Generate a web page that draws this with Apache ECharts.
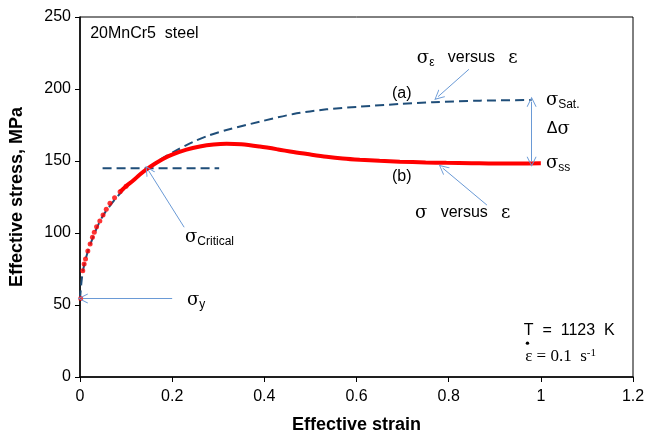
<!DOCTYPE html>
<html>
<head>
<meta charset="utf-8">
<script src="https://cdn.jsdelivr.net/npm/echarts@6/dist/echarts.min.js"></script>
<style>
  html, body { margin: 0; padding: 0; background: #fff; }
  #chart { width: 646px; height: 436px; }
</style>
</head>
<body>
<div id="chart"></div>
<script>
// red curve (b): early sampled points shown as dots
const dotStrain = [0.0015, 0.006, 0.009, 0.012, 0.017, 0.022, 0.027, 0.031, 0.036, 0.043, 0.05, 0.057, 0.065, 0.075, 0.087, 0.1];
const dotStress = [54.6, 73.8, 78.5, 82, 87.5, 92.4, 97, 100.5, 104.4, 108.3, 112.5, 116.5, 120.6, 124.5, 128.7, 132.5];

// red curve (b): dense part drawn as a thick line
const lineStrain = [0.087, 0.1, 0.116, 0.13, 0.148, 0.165, 0.18, 0.2, 0.231, 0.26, 0.29, 0.318, 0.35, 0.39, 0.43, 0.463, 0.5, 0.535, 0.57, 0.607, 0.65, 0.694, 0.75, 0.795, 0.85, 0.9, 0.95, 1.0];
const lineStress = [128.7, 132.5, 136.6, 140.6, 145, 148.6, 151.4, 154.4, 157.9, 160.1, 161.5, 162.0, 161.6, 160.0, 158.0, 156.2, 154.5, 153.0, 151.8, 150.9, 150.1, 149.5, 149.0, 148.7, 148.5, 148.3, 148.3, 148.4];

// dashed curve (a)
const dashStrain = [0, 0.006, 0.02, 0.05, 0.1, 0.148, 0.174, 0.21, 0.246, 0.28, 0.318, 0.39, 0.463, 0.535, 0.607, 0.694, 0.766, 0.868, 0.98];
const dashStress = [54, 73, 90, 112, 132, 145, 151, 157.5, 163.4, 167.8, 171.5, 177.3, 182.6, 185.9, 187.7, 189.6, 190.8, 191.9, 192.4];

// critical stress level
const critStrain = [0.049, 0.302];
const critStress = [145, 145];

const xTicks = [0, 0.2, 0.4, 0.6, 0.8, 1, 1.2];
const yTicks = [0, 50, 100, 150, 200, 250];

// annotation arrows [tail, head] in data units
const arrows = [
  { from: [0.2, 54.6], to: [0.006, 54.6], both: false },
  { from: [0.226, 104], to: [0.148, 143.7], both: false },
  { from: [0.844, 213.7], to: [0.777, 194.7], both: false },
  { from: [0.883, 119.4], to: [0.787, 145.1], both: false },
  { from: [0.98, 149.5], to: [0.98, 191.2], both: true }
];

// annotation texts, anchored at left/middle in data units
const labels = [
  { at: [0.022, 238.8], text: '20MnCr5  steel' },
  { at: [0.677, 196.5], text: '(a)' },
  { at: [0.677, 138.9], text: '(b)' },
  { at: [0.731, 221.5], text: '{s|σ}{sub|ε}{t|   versus   }{s|ε}' },
  { at: [0.727, 113.9], text: '{s|σ}{t|   versus   }{s|ε}' },
  { at: [1.011, 192.4], text: '{s|σ}{sub|Sat.}' },
  { at: [1.013, 172.2], text: '{t|Δ}{s|σ}' },
  { at: [1.011, 148.6], text: '{s|σ}{sub|ss}' },
  { at: [0.228, 97.2], text: '{s|σ}{sub|Critical}' },
  { at: [0.232, 53.5], text: '{s|σ}{sub|y}' },
  { at: [0.963, 32], text: 'T  =  1123  K' },
  { at: [0.966, 14], text: '{m|ε = 0.1  s}{sup|-1}' }
];

const chevron = 'path://M0,0 L6,10 L4.8,10 L0,2 L-4.8,10 L-6,10 Z';

const chart = echarts.init(document.getElementById('chart'));

const zip = (a, b) => a.map((v, i) => [v, b[i]]);

chart.setOption({
  animation: false,
  backgroundColor: '#fff',
  grid: {
    left: 80, right: 13, top: 17, bottom: 59,
    outerBoundsMode: 'none',
    show: true, borderColor: '#000', borderWidth: 1
  },
  xAxis: {
    type: 'value', min: 0, max: 1.2, interval: 0.2,
    name: 'Effective strain', nameLocation: 'middle', nameGap: 39,
    nameTextStyle: { fontFamily: 'Liberation Sans', fontWeight: 'bold', fontSize: 18, color: '#000' },
    axisLine: { lineStyle: { color: '#000', width: 1.5 } },
    axisTick: { show: true, length: 5, lineStyle: { color: '#000' } },
    axisLabel: {
      margin: 12, fontFamily: 'Liberation Sans', fontSize: 16, color: '#000',
      formatter: v => xTicks.includes(+v.toFixed(1)) ? String(+v.toFixed(1)) : ''
    },
    splitLine: { show: false }
  },
  yAxis: {
    type: 'value', min: 0, max: 250, interval: 50,
    name: 'Effective stress, MPa', nameLocation: 'middle', nameGap: 54,
    nameTextStyle: { fontFamily: 'Liberation Sans', fontWeight: 'bold', fontSize: 18, color: '#000' },
    axisLine: { show: true, lineStyle: { color: '#000', width: 1.5 } },
    axisTick: { show: true, length: 5, lineStyle: { color: '#000' } },
    axisLabel: {
      margin: 9, fontFamily: 'Liberation Sans', fontSize: 16, color: '#000',
      formatter: v => yTicks.includes(v) ? String(v) : ''
    },
    splitLine: { show: false }
  },
  series: [
    {
      name: '(a)', type: 'line', data: zip(dashStrain, dashStress), smooth: 0.3,
      showSymbol: false, z: 2,
      lineStyle: { color: '#1F4E79', width: 2, type: [9, 5] }
    },
    {
      name: 'critical', type: 'line', data: zip(critStrain, critStress),
      showSymbol: false, z: 2,
      lineStyle: { color: '#1F4E79', width: 2, type: [9, 5] }
    },
    {
      name: '(b)', type: 'line', data: zip(lineStrain, lineStress), smooth: 0.3,
      showSymbol: false, z: 4,
      lineStyle: { color: '#FF0000', width: 4 }
    },
    {
      name: '(b) dots', type: 'scatter', data: zip(dotStrain, dotStress),
      symbolSize: 5, z: 4,
      itemStyle: { color: '#FF0000' }
    },
    {
      name: 'arrows', type: 'line', data: [], z: 5,
      markLine: {
        silent: true, animation: false,
        label: { show: false },
        lineStyle: { color: '#6A9AD6', width: 1, type: 'solid' },
        symbolSize: [10, 10],
        data: arrows.map(a => [
          { coord: a.from, symbol: a.both ? chevron : 'none' },
          { coord: a.to, symbol: chevron }
        ])
      }
    }
  ]
});

// place the text annotations through the axes
const rich = {
  s: { fontFamily: 'DejaVu Serif', fontSize: 18, color: '#000' },
  t: { fontFamily: 'Liberation Sans', fontSize: 16, color: '#000' },
  sub: { fontFamily: 'Liberation Sans', fontSize: 12, color: '#000', padding: [9, 0, 0, 0] },
  m: { fontFamily: 'Liberation Serif', fontSize: 17, color: '#000' },
  sup: { fontFamily: 'Liberation Serif', fontSize: 11, color: '#000', padding: [0, 0, 8, 0] }
};

const graphics = labels.map(l => {
  const p = chart.convertToPixel({ gridIndex: 0 }, l.at);
  return {
    type: 'text', x: p[0], y: p[1], z: 10,
    style: {
      text: l.text, rich: rich,
      font: '16px "Liberation Sans"', fill: '#000',
      textVerticalAlign: 'middle', verticalAlign: 'middle', align: 'left'
    }
  };
});

// dot above the strain-rate epsilon
const dotPos = chart.convertToPixel({ gridIndex: 0 }, [0.971, 23.5]);
graphics.push({
  type: 'circle', z: 10,
  shape: { cx: dotPos[0], cy: dotPos[1], r: 1.7 },
  style: { fill: '#000' }
});

chart.setOption({ graphic: graphics });

window.addEventListener('resize', () => chart.resize());
</script>
</body>
</html>
